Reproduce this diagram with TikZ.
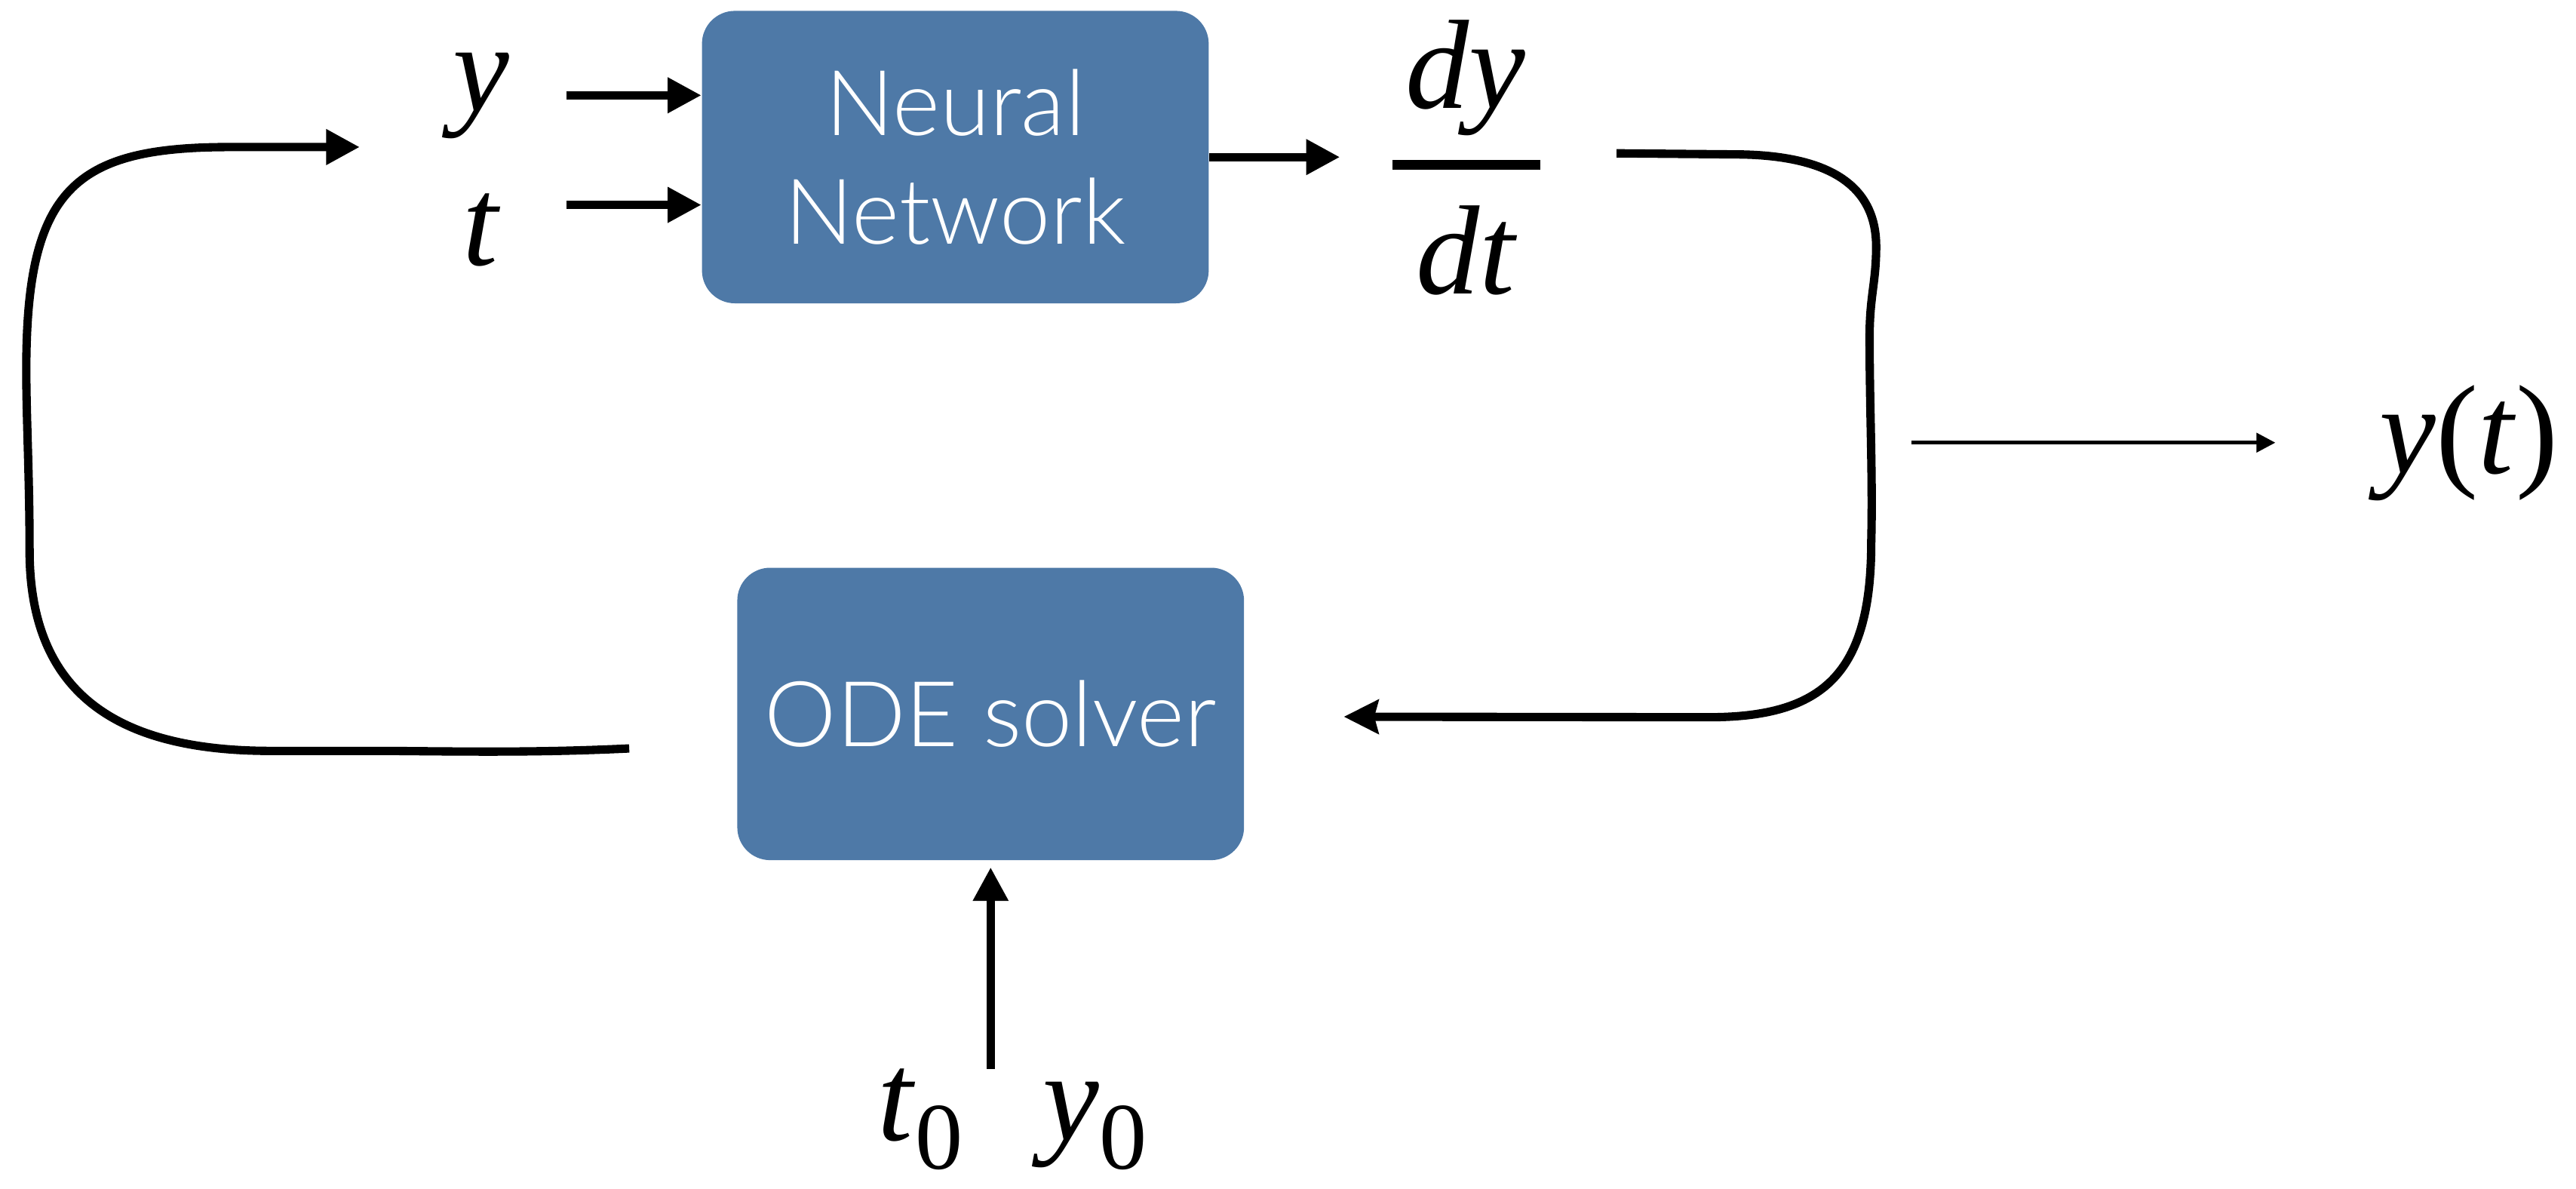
\documentclass[tikz,border=0pt]{standalone}
\usepackage{fontspec}
\setmainfont{Liberation Serif}
\newfontfamily\boxfont{Lato Light}
\usetikzlibrary{arrows.meta}
\definecolor{nnblue}{RGB}{78,121,167}
\tikzset{
  blockbox/.style={fill=nnblue, rounded corners=0.4cm, minimum width=6.17cm, minimum height=3.56cm,
    inner sep=0pt, text=white, align=center, font=\boxfont\fontsize{31.5}{37.6}\selectfont},
  var/.style={inner sep=0pt, anchor=base, font=\fontsize{44}{52}\selectfont},
  arr/.style={line width=2.8pt, -{Triangle[length=0.41cm,width=0.41cm]}},
  thinarr/.style={line width=1.3pt, -{Triangle[length=0.23cm,width=0.23cm]}},
  loopline/.style={line width=2.9pt, line join=round},
}
\newcommand{\subz}{\raisebox{-10pt}{\fontsize{33}{40}\selectfont 0}}
\begin{document}
\begin{tikzpicture}[x=0.02cm, y=-0.02cm]
\useasboundingbox (0,0) rectangle (1568,723.6);

% blocks
\node[blockbox] (nn) at (581.5,95.6) {Neural\\Network};
\node[blockbox] (ode) at (603,434.5) {ODE solver};

% labels
\node[var] (ylab) at (293,67.5) {\textit{y}};
\node[var] (tlab) at (293,161.5) {\textit{t}};
\node[var] (dy) at (892,66) {\textit{dy}};
\node[fill=black, inner sep=0pt, minimum width=1.8cm, minimum height=3.3pt] (bar) at (892.6,100.4) {};
\node[var] (dt) at (893,179) {\textit{dt}};
\node[var] (yt) at (1503,288) {\textit{y}(\textit{t})};
\node[var] (t0) at (560,694) {\textit{t}\subz};
\node[var] (y0) at (666.6,694) {\textit{y}\subz};

% coordinates for free ends
\coordinate (ya) at (344.6,58);
\coordinate (ta) at (344.6,124.7);
\coordinate (dyin) at (815.6,95.6);
\coordinate (init) at (603,650.5);
\coordinate (outA) at (1163.5,269.4);
\coordinate (outB) at (1385,269.4);
\coordinate (fb1) at (383,455.5);
\coordinate (fb2) at (219,89.5);
\coordinate (rc1) at (984,93.3);
\coordinate (rc2) at (818,436.2);

% straight arrows
\draw[arr] (ya) -- (ya -| nn.west);
\draw[arr] (ta) -- (ta -| nn.west);
\draw[arr] (nn.east) -- (dyin);
\draw[arr, shorten >=0.08cm] (init) -- (init |- ode.south);
\draw[thinarr] (outA) -- (outB);

% feedback loop (left)
\draw[loopline, -{Triangle[length=0.41cm,width=0.41cm]}] (fb1)
  .. controls (330,458) and (290,457.5) .. (237,457)
  -- (165,457)
  .. controls (75,457) and (18,425) .. (18,335)
  .. controls (18,290) and (16,255) .. (16,225)
  .. controls (16,115) and (45,89.5) .. (140,89.5)
  -- (fb2);

% derivative to solver (right)
\draw[loopline, -{Stealth[length=0.42cm,width=0.41cm,inset=0.05cm]}] (rc1)
  -- (1060,94)
  .. controls (1112,95) and (1142,112) .. (1142,150)
  .. controls (1142,172) and (1138,180) .. (1138,205)
  .. controls (1138,250) and (1140,290) .. (1139,330)
  .. controls (1139,410) and (1110,436.5) .. (1040,436.5)
  -- (rc2);
\end{tikzpicture}
\end{document}
